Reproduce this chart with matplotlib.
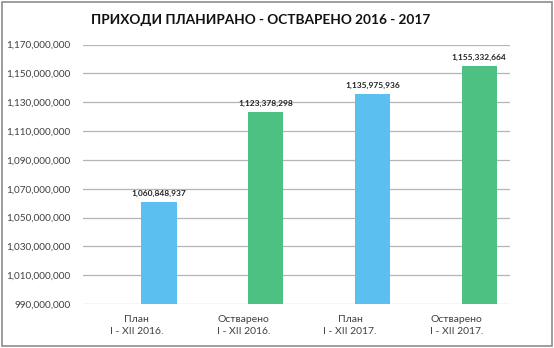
import matplotlib
matplotlib.use("Agg")
import matplotlib.pyplot as plt
from matplotlib.ticker import FuncFormatter
from matplotlib.patches import Rectangle

categories = ["План\nI - XII 2016.", "Остварено\nI - XII 2016.",
              "План\nI - XII 2017.", "Остварено\nI - XII 2017."]
values = [1060848937, 1123378298, 1135975936, 1155332664]
colors = ["#5bbfef", "#4cc182", "#5bbfef", "#4cc182"]
y_ticks = list(range(990000000, 1170000001, 20000000))

plt.rcParams["font.family"] = ["Lato", "DejaVu Sans"]

fig = plt.figure(figsize=(5.54, 3.48), dpi=100)
ax = fig.add_axes([0.150, 0.126, 0.771, 0.746])

x = list(range(len(categories)))
# bars sit right of the category centre (two-series clustered layout)
bar_x = [xi + 0.21 for xi in x]
ax.bar(bar_x, values, width=0.33, color=colors, zorder=3)
for xi, v in zip(bar_x, values):
    ax.text(xi, v + 3500000, f"{v:,}", ha="center", va="bottom",
            fontsize=6, fontweight="bold", color="#222222", zorder=4)

ax.set_ylim(990000000, 1170000000)
ax.set_xlim(-0.5, 3.5)
ax.set_yticks(y_ticks)
ax.yaxis.set_major_formatter(FuncFormatter(lambda v, p: f"{int(v):,}"))
ax.set_xticks(x)
ax.set_xticklabels(categories, fontsize=7.5, color="#404040", linespacing=1.45)
ax.tick_params(axis="y", labelsize=7.2, labelcolor="#404040", length=0, pad=9)
ax.tick_params(axis="x", length=0, pad=8)
ax.grid(axis="y", color="#b5b5b5", linewidth=0.9, zorder=0)
for s in ax.spines.values():
    s.set_visible(False)

fig.text(0.471, 0.943, "ПРИХОДИ ПЛАНИРАНО - ОСТВАРЕНО 2016 - 2017",
         ha="center", va="center", fontsize=9.8, fontweight="bold", color="#111111")

fig.patches.append(Rectangle((0.003, 0.005), 0.994, 0.99, transform=fig.transFigure,
                             fill=False, edgecolor="#8c8c8c", linewidth=1.2))

fig.savefig("out.png", dpi=100)
